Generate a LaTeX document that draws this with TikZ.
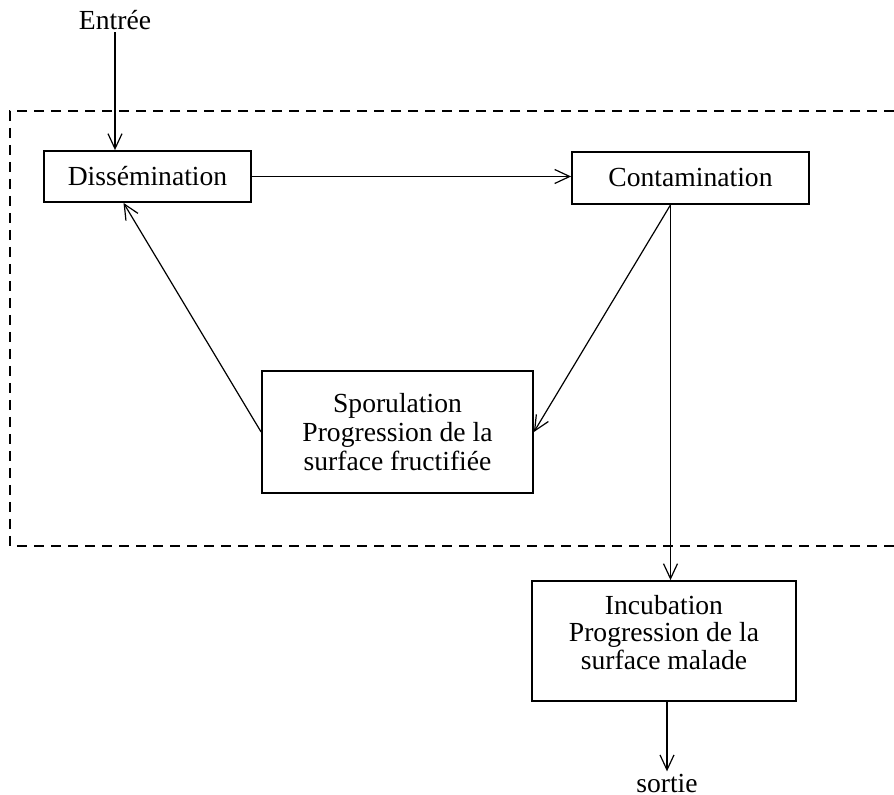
\documentclass[tikz,border=0pt]{standalone}
\usepackage{fontspec}
\setmainfont{Liberation Serif}
\usetikzlibrary{arrows.meta, positioning, calc}

\tikzset{
  stagebox/.style={draw, line width=0.9pt, align=center, inner sep=0pt},
  flow/.style={line width=0.6pt, -{Straight Barb[length=7.5pt,width=7pt]}},
  txt/.style={inner sep=1pt}
}

\begin{document}
\begin{tikzpicture}[x=0.5pt, y=-0.5pt, font=\fontsize{13.8}{12.5}\selectfont]
        \useasboundingbox (0,0) rectangle (894,795);

        % Boucle de la maladie (cadre ouvert a droite)
        \draw[dashed, line width=0.7pt, dash pattern=on 5pt off 3.5pt]
          (894,111) -- (10,111) -- (10,546) -- (894,546);

        % Etapes
        \node[txt] (entree) at (115,20) {Entrée};
        \node[stagebox, minimum width=103.5pt, minimum height=25.5pt] (diss) at (147.5,176.5) {Dissémination};
        \node[stagebox, minimum width=118.5pt, minimum height=26pt] (conta) at (690.5,178) {Contamination};
        \node[stagebox, minimum width=135.5pt, minimum height=61pt] (sporu) at (397.5,432)
          {Sporulation\\[1pt] Progression de la\\[0.5pt] surface fructifiée};
        \node[stagebox, minimum width=132pt, minimum height=60pt] (incub) at (664,641)
          {Incubation\\[1pt] Progression de la\\[0.5pt] surface malade\\[-4pt]\mbox{}};
        \node[txt] (sortie) at (667,783) {sortie};

        % Flux
        \draw[flow] (entree.south) -- (entree.south |- diss.north);
        \draw[flow] (diss.east) -- (diss.east -| conta.west);
        \draw[flow] ([xshift=-10pt]conta.south) -- (sporu.east);
        \draw[flow] ([xshift=-10pt]conta.south) -- ([xshift=-10pt]conta.south |- incub.north);
        \draw[flow] (sporu.west) -- ([xshift=-12pt]diss.south);
        \draw[flow] (incub.south -| sortie.north) -- (sortie.north);
    \end{tikzpicture}
\end{document}
